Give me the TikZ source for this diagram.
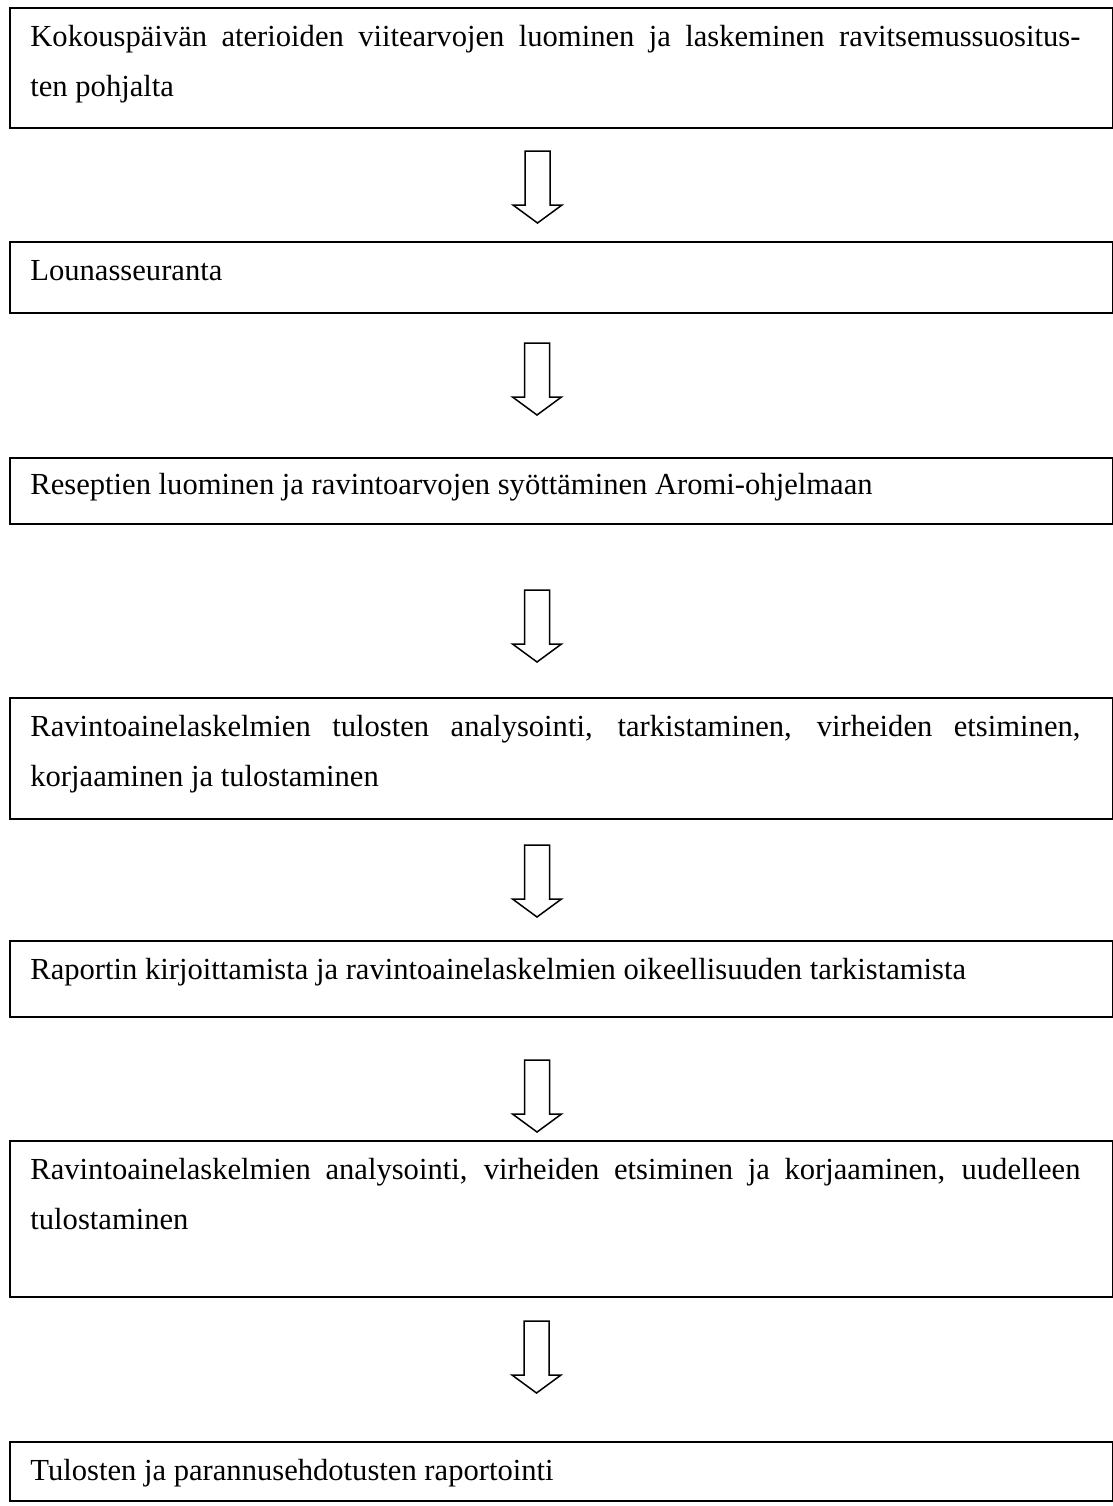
\documentclass[tikz,border=0pt]{standalone}
\usepackage{fontspec}
\setmainfont{Liberation Serif}
\usetikzlibrary{calc}
\newcommand{\jline}[1]{\makebox[525pt][s]{#1}}
\begin{document}
\begin{tikzpicture}[x=0.5pt,y=-0.5pt,
  box/.style={draw, line width=1pt, minimum width=551.5pt, inner sep=0pt, anchor=north west},
  txt/.style={anchor=base west, inner sep=0pt, align=left, font=\fontsize{15.3}{25}\selectfont},
  arrowline/.style={draw, line width=0.75pt, line join=miter},
  downarr/.pic={\path[arrowline] (-12.5,0) -- (12.5,0) -- (12.5,54) -- (24.5,54) -- (0,72) -- (-24.5,54) -- (-12.5,54) -- cycle;}
]
\useasboundingbox (0,0) rectangle (1113,1506);
\node[box, minimum height=60pt] (b1) at (9,7) {};
\node[box, minimum height=35.5pt] (b2) at (9,241) {};
\node[box, minimum height=33pt] (b3) at (9,457) {};
\node[box, minimum height=60.5pt] (b4) at (9,697) {};
\node[box, minimum height=38pt] (b5) at (9,940) {};
\node[box, minimum height=78pt] (b6) at (9,1140) {};
\node[box, minimum height=29.5pt] (b7) at (9,1441) {};
\node[txt] (t1) at ($(b1.north west)+(21,89)$) {\jline{Kokouspäivän aterioiden viitearvojen luominen ja laskeminen ravitsemussuositus-}\\ten pohjalta};
\node[txt] (t2) at ($(b2.north west)+(21,39)$) {Lounasseuranta};
\node[txt] (t3) at ($(b3.north west)+(21,37)$) {Reseptien luominen ja ravintoarvojen syöttäminen Aromi-ohjelmaan};
\node[txt] (t4) at ($(b4.north west)+(21,89)$) {\jline{Ravintoainelaskelmien tulosten analysointi, tarkistaminen, virheiden etsiminen,}\\korjaaminen ja tulostaminen};
\node[txt] (t5) at ($(b5.north west)+(21,39)$) {Raportin kirjoittamista ja ravintoainelaskelmien oikeellisuuden tarkistamista};
\node[txt] (t6) at ($(b6.north west)+(21,89)$) {\jline{Ravintoainelaskelmien analysointi, virheiden etsiminen ja korjaaminen, uudelleen}\\tulostaminen};
\node[txt] (t7) at ($(b7.north west)+(21,39)$) {Tulosten ja parannusehdotusten raportointi};
\coordinate (a1) at (537.5,151);
\coordinate (a2) at (537,343);
\coordinate (a3) at (537,590);
\coordinate (a4) at (537,845);
\coordinate (a5) at (537,1060);
\coordinate (a6) at (536.5,1321);
\foreach \a in {a1,a2,a3,a4,a5,a6} \pic at (\a) {downarr};
\end{tikzpicture}
\end{document}
